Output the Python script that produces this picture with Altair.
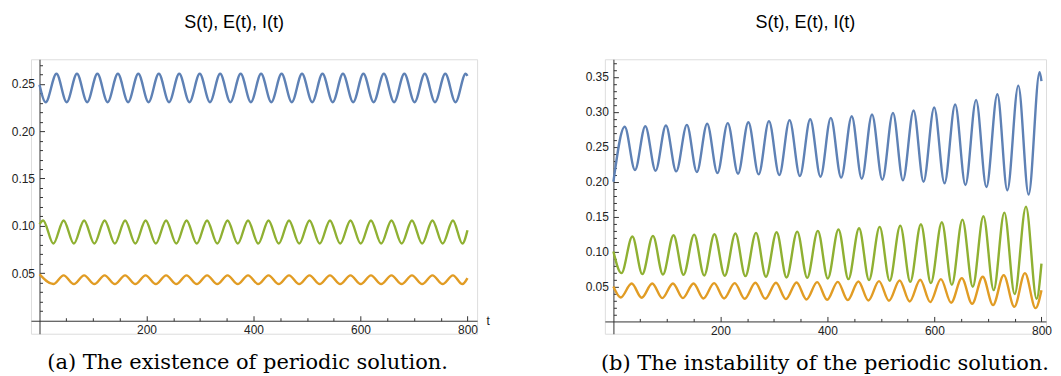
import altair as alt
import pandas as pd

# ---------------- data ----------------
SERIES = ["S", "E", "I"]
COLORS = ["#5E81B5", "#E19C24", "#8FB032"]

# Panel (a): periodic solution (extrema + end points)
A_S_t = [0, 11.5, 31.7, 50.8, 70.0, 89.1, 108.2, 127.3, 146.5, 165.6, 184.7, 203.8, 223.0, 242.1,
         261.2, 280.3, 299.5, 318.6, 337.7, 356.8, 376.0, 395.1, 414.2, 433.3, 452.5, 471.6, 490.7,
         509.8, 529.0, 548.1, 567.2, 586.3, 605.5, 624.6, 643.7, 662.8, 682.0, 701.1, 720.2, 739.3,
         758.5, 777.6, 796.7, 800]
A_S_v = [0.249, 0.2305, 0.2605, 0.2305, 0.2605, 0.2305, 0.2605, 0.2305, 0.2605, 0.2305, 0.2605,
         0.2305, 0.2605, 0.2305, 0.2605, 0.2305, 0.2605, 0.2305, 0.2605, 0.2305, 0.2605, 0.2305,
         0.2605, 0.2305, 0.2605, 0.2305, 0.2605, 0.2305, 0.2605, 0.2305, 0.2605, 0.2305, 0.2605,
         0.2305, 0.2605, 0.2305, 0.2605, 0.2305, 0.2605, 0.2305, 0.2605, 0.2305, 0.2605, 0.2583]

A_I_t = [0, 6.8, 25.9, 45.1, 64.2, 83.4, 102.5, 121.7, 140.8, 160.0, 179.1, 198.3, 217.4, 236.6,
         255.7, 274.9, 294.0, 313.2, 332.3, 351.5, 370.6, 389.8, 408.9, 428.1, 447.2, 466.4, 485.5,
         504.7, 523.8, 543.0, 562.1, 581.3, 600.4, 619.6, 638.7, 657.9, 677.0, 696.2, 715.3, 734.5,
         753.6, 772.8, 790.5, 800]
A_I_v = [0.1018, 0.1058, 0.0814, 0.1058, 0.0814, 0.1058, 0.0814, 0.1058, 0.0814, 0.1058, 0.0814,
         0.1058, 0.0814, 0.1058, 0.0814, 0.1058, 0.0814, 0.1058, 0.0814, 0.1058, 0.0814, 0.1058,
         0.0814, 0.1058, 0.0814, 0.1058, 0.0814, 0.1058, 0.0814, 0.1058, 0.0814, 0.1058, 0.0814,
         0.1058, 0.0814, 0.1058, 0.0814, 0.1058, 0.0814, 0.1058, 0.0814, 0.1058, 0.0814, 0.0955]

A_E_t = [0, 25.9, 45.1, 64.2, 83.4, 102.5, 121.7, 140.8, 160.0, 179.1, 198.3, 217.4, 236.6,
         255.7, 274.9, 294.0, 313.2, 332.3, 351.5, 370.6, 389.8, 408.9, 428.1, 447.2, 466.4, 485.5,
         504.7, 523.8, 543.0, 562.1, 581.3, 600.4, 619.6, 638.7, 657.9, 677.0, 696.2, 715.3, 734.5,
         753.6, 772.8, 790.5, 800]
A_E_v = [0.049, 0.0387, 0.0479, 0.0387, 0.0479, 0.0387, 0.0479, 0.0387, 0.0479, 0.0387, 0.0479,
         0.0387, 0.0479, 0.0387, 0.0479, 0.0387, 0.0479, 0.0387, 0.0479, 0.0387, 0.0479, 0.0387,
         0.0479, 0.0387, 0.0479, 0.0387, 0.0479, 0.0387, 0.0479, 0.0387, 0.0479, 0.0387, 0.0479,
         0.0387, 0.0479, 0.0387, 0.0479, 0.0387, 0.0479, 0.0387, 0.0479, 0.0387, 0.045]

# Panel (b): growing oscillations
B_S_t = [0, 21.1, 40.3, 59.6, 78.8, 98.1, 117.4, 137.3, 155.9, 175.2, 194.4, 213.7, 232.9, 252.2,
         271.5, 290.7, 310.0, 329.2, 348.5, 367.8, 387.0, 406.3, 425.6, 445.4, 464.1, 483.3, 502.6,
         522.5, 541.1, 561.0, 579.6, 599.5, 618.8, 638.7, 657.9, 677.8, 697.1, 717.6, 736.2, 756.7,
         776.0, 796.5, 800]
B_S_v = [0.200, 0.2786, 0.2167, 0.2795, 0.2158, 0.2805, 0.2148, 0.2814, 0.2139, 0.2829, 0.2124,
         0.2838, 0.2115, 0.2852, 0.2105, 0.2867, 0.2096, 0.2881, 0.2081, 0.2895, 0.2072, 0.2914,
         0.2058, 0.2938, 0.2043, 0.2962, 0.2029, 0.2986, 0.2020, 0.3019, 0.2000, 0.3062, 0.1977,
         0.3105, 0.1953, 0.3171, 0.1924, 0.3252, 0.1877, 0.3376, 0.1815, 0.3567, 0.344]

B_E_t = [0, 13.6, 34.1, 52.8, 72.6, 91.3, 111.2, 129.8, 149.7, 168.3, 188.2, 206.8, 226.7, 245.4,
         265.3, 283.9, 303.8, 322.4, 342.3, 360.9, 380.8, 399.5, 419.3, 438.0, 457.9, 476.5, 496.4,
         515.0, 534.9, 553.6, 573.4, 592.1, 612.0, 631.2, 651.1, 670.4, 690.2, 709.5, 729.4, 749.3,
         769.1, 789.0, 800]
B_E_v = [0.050, 0.0343, 0.0543, 0.0339, 0.0543, 0.0334, 0.0543, 0.0334, 0.0543, 0.0329, 0.0548,
         0.0329, 0.0548, 0.0324, 0.0553, 0.0324, 0.0553, 0.0320, 0.0558, 0.0315, 0.0562, 0.0310,
         0.0567, 0.0305, 0.0572, 0.0300, 0.0577, 0.0296, 0.0586, 0.0286, 0.0596, 0.0277, 0.0605,
         0.0267, 0.0620, 0.0253, 0.0639, 0.0234, 0.0663, 0.0210, 0.0691, 0.0191, 0.0448]

B_I_t = [0, 14.9, 35.4, 54.0, 73.9, 92.5, 112.4, 131.0, 150.9, 169.6, 188.8, 208.1, 228.0, 246.6,
         266.5, 285.1, 305.0, 323.6, 343.5, 362.2, 382.1, 400.7, 420.6, 439.2, 459.1, 477.7, 497.6,
         516.3, 536.1, 554.8, 574.7, 593.3, 613.8, 632.5, 652.3, 671.6, 691.5, 710.7, 730.6, 749.9,
         771.0, 790.9, 800]
B_I_v = [0.100, 0.0691, 0.1215, 0.0677, 0.1224, 0.0672, 0.1234, 0.0667, 0.1243, 0.0658, 0.1248,
         0.0653, 0.1258, 0.0648, 0.1267, 0.0639, 0.1277, 0.0629, 0.1286, 0.0624, 0.1296, 0.0615,
         0.1315, 0.0605, 0.1334, 0.0591, 0.1353, 0.0581, 0.1372, 0.0567, 0.1391, 0.0548, 0.1420,
         0.0524, 0.1458, 0.0496, 0.1505, 0.0448, 0.1558, 0.0391, 0.1643, 0.0324, 0.0829]

# axis ticks
X_MAJOR = [200, 400, 600, 800]
X_MINOR = [50, 100, 150, 250, 300, 350, 450, 500, 550, 650, 700, 750]
A_Y_MAJOR = [0.05, 0.10, 0.15, 0.20, 0.25]
A_Y_MINOR = [0.01, 0.02, 0.03, 0.04, 0.06, 0.07, 0.08, 0.09, 0.11, 0.12, 0.13, 0.14,
             0.16, 0.17, 0.18, 0.19, 0.21, 0.22, 0.23, 0.24, 0.26, 0.27]
B_Y_MAJOR = [0.05, 0.10, 0.15, 0.20, 0.25, 0.30, 0.35]
B_Y_MINOR = [0.01, 0.02, 0.03, 0.04, 0.06, 0.07, 0.08, 0.09, 0.11, 0.12, 0.13, 0.14,
             0.16, 0.17, 0.18, 0.19, 0.21, 0.22, 0.23, 0.24, 0.26, 0.27, 0.28, 0.29,
             0.31, 0.32, 0.33, 0.34, 0.36, 0.37]

TITLE = "S(t), E(t), I(t)"
CAP_A = "(a)  The existence of periodic solution."
CAP_B = "(b)  The instability of the periodic solution."

AXIS_COLOR = "#333333"
LABEL_COLOR = "#222222"
SANS = "Liberation Sans"
SERIF = "DejaVu Serif"


def frame(parts):
    rows = []
    for name, ts, vs in parts:
        for t, v in zip(ts, vs):
            rows.append({"series": name, "t": t, "v": v})
    return pd.DataFrame(rows)


def panel(df, xdom, ydom, W, H, ymaj, ymin, caption, cap_x, show_t):
    x0 = W * (0 - xdom[0]) / (xdom[1] - xdom[0])
    y0 = H * (0 - ydom[0]) / (ydom[1] - ydom[0])
    xs = alt.Scale(domain=xdom, nice=False, zero=False)
    ys = alt.Scale(domain=ydom, nice=False, zero=False)
    color = alt.Color("series:N", scale=alt.Scale(domain=SERIES, range=COLORS), legend=None)
    order = alt.Order("t:Q")

    lines = alt.Chart(df).mark_line(strokeWidth=2.4, interpolate="monotone", strokeJoin="round").encode(
        x=alt.X("t:Q", scale=xs, axis=alt.Axis(
            orient="bottom", values=X_MAJOR, domain=False, ticks=False, tickSize=0, grid=False,
            labelPadding=4, labelFont=SANS, labelFontSize=12, labelColor=LABEL_COLOR,
            labelFlush=False, labelOverlap=False, offset=-y0,
            title=caption, titleFont=SERIF, titleFontSize=21, titleFontWeight="normal",
            titleColor="black", titleX=cap_x, titleY=48, titleBaseline="alphabetic",
            titleAlign="center", titleAnchor="start")),
        y=alt.Y("v:Q", scale=ys, axis=alt.Axis(
            orient="left", values=ymaj, format=".2f", domain=False, ticks=False, tickSize=0,
            grid=False, labelPadding=5, labelFont=SANS, labelFontSize=12, labelColor=LABEL_COLOR,
            labelFlush=False, labelOverlap=False, offset=-x0, title=None)),
        color=color, order=order, detail="series:N")

    xmaj_kw = dict(orient="top", values=X_MAJOR, labels=False, domain=True, domainColor=AXIS_COLOR,
                   ticks=True, tickSize=5, tickColor=AXIS_COLOR, grid=False, offset=-(H - y0))
    if show_t:
        xmaj_kw.update(title="t", titleFont=SANS, titleFontSize=12, titleFontWeight="normal",
                       titleColor=LABEL_COLOR, titleX=W + 9, titleY=0, titleBaseline="middle",
                       titleAlign="left", titleAngle=0)
    else:
        xmaj_kw.update(title=None)
    major = alt.Chart(df).mark_line(opacity=0).encode(
        x=alt.X("t:Q", scale=xs, axis=alt.Axis(**xmaj_kw)),
        y=alt.Y("v:Q", scale=ys, axis=alt.Axis(
            orient="right", values=ymaj, labels=False, domain=True, domainColor=AXIS_COLOR,
            ticks=True, tickSize=5, tickColor=AXIS_COLOR, grid=False, offset=-(W - x0), title=None)),
        detail="series:N")

    minor = alt.Chart(df).mark_line(opacity=0).encode(
        x=alt.X("t:Q", scale=xs, axis=alt.Axis(
            orient="top", values=X_MINOR, labels=False, domain=False, ticks=True, tickSize=3,
            tickColor=AXIS_COLOR, grid=False, offset=-(H - y0), title=None)),
        y=alt.Y("v:Q", scale=ys, axis=alt.Axis(
            orient="right", values=ymin, labels=False, domain=False, ticks=True, tickSize=3,
            tickColor=AXIS_COLOR, grid=False, offset=-(W - x0), title=None)),
        detail="series:N")

    return alt.layer(lines, major, minor).resolve_axis(x="independent", y="independent").properties(
        width=W, height=H,
        title=alt.TitleParams(TITLE, font=SANS, fontSize=18, fontWeight="normal", color="black",
                              anchor="middle", frame="group", baseline="alphabetic", offset=13,
                              dx=-20))


df_a = frame([("S", A_S_t, A_S_v), ("E", A_E_t, A_E_v), ("I", A_I_t, A_I_v)])
df_b = frame([("S", B_S_t, B_S_v), ("E", B_E_t, B_E_v), ("I", B_I_t, B_I_v)])

left = panel(df_a, [-16, 818], [-0.0137, 0.2758], 447, 275, A_Y_MAJOR, A_Y_MINOR,
             CAP_A, 216.6, True)
right = panel(df_b, [-16, 808.5], [-0.0176, 0.3753], 442, 275, B_Y_MAJOR, B_Y_MINOR,
              CAP_B, 220, False)

chart = alt.hconcat(left, right, spacing=128, bounds="flush").properties(
    padding={"left": 2, "top": 5, "right": 0, "bottom": 0}
).configure_view(stroke="transparent").configure(background="white")

chart.save("out.html", embed_options={"renderer": "svg", "actions": False})
